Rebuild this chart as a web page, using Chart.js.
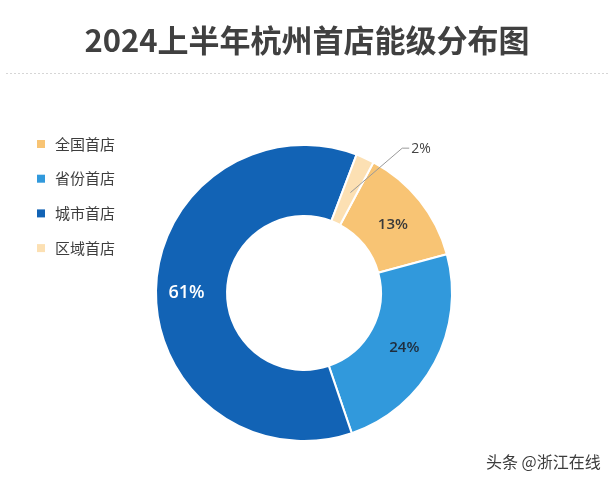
<!DOCTYPE html>
<html>
<head>
<meta charset="utf-8">
<script src="https://cdn.jsdelivr.net/npm/chart.js@4.4.1/dist/chart.umd.min.js"></script>
<style>
  html, body { margin: 0; padding: 0; background: #fff; }
  #wrap { width: 614px; height: 484px; position: relative; }
</style>
</head>
<body>
<div id="wrap"><canvas id="c" width="614" height="484"></canvas></div>
<script>
const titleText = '2024上半年杭州首店能级分布图';
const categories = ['全国首店', '省份首店', '城市首店', '区域首店'];
const shares = [13, 24, 61, 2];
const colors = ['#F8C474', '#3199DC', '#1263B5', '#FCE0B3'];
const labelColors = ['#3a3a3a', '#1f2d3d', '#ffffff', '#444444'];
const footer = '头条 @浙江在线';

const FONT = '"Noto Sans CJK SC", "Noto Sans", sans-serif';
const NUMFONT = '"Open Sans", "Noto Sans", sans-serif';

const decor = {
  id: 'decor',
  beforeDraw(chart) {
    const ctx = chart.ctx;
    ctx.save();
    ctx.fillStyle = '#fff';
    ctx.fillRect(0, 0, chart.width, chart.height);
    // title
    ctx.fillStyle = '#404040';
    ctx.font = 'bold 31px ' + FONT;
    ctx.textAlign = 'center';
    ctx.textBaseline = 'middle';
    ctx.fillText(titleText, 307, 40);
    // dotted rule
    ctx.fillStyle = '#d6d6d6';
    for (let x = 6; x < 610; x += 4) ctx.fillRect(x, 73, 2, 1);
    // legend
    ctx.textAlign = 'left';
    ctx.font = '15px ' + FONT;
    categories.forEach((name, i) => {
      const y = 144 + i * 34.7;
      ctx.fillStyle = colors[i];
      ctx.fillRect(37, y - 4, 8, 8);
      ctx.fillStyle = '#3d3d3d';
      ctx.fillText(name, 55, y);
    });
    // footer
    ctx.font = '16px ' + FONT;
    ctx.fillStyle = '#3c3c3c';
    ctx.fillText(footer, 486, 462);
    ctx.restore();
  },
  afterDatasetsDraw(chart) {
    const ctx = chart.ctx;
    const meta = chart.getDatasetMeta(0);
    ctx.save();
    ctx.textAlign = 'center';
    ctx.textBaseline = 'middle';
    meta.data.forEach((arc, i) => {
      const p = arc.getProps(['x', 'y', 'startAngle', 'endAngle', 'innerRadius', 'outerRadius']);
      const mid = (p.startAngle + p.endAngle) / 2;
      const r = (p.innerRadius + p.outerRadius) / 2;
      const cx = p.x + Math.cos(mid) * r;
      const cy = p.y + Math.sin(mid) * r;
      const txt = shares[i] + '%';
      if (shares[i] < 5) {
        const a2 = mid + 0.17;
        const ex = p.x + Math.cos(a2) * (p.outerRadius + 27);
        const ey = p.y + Math.sin(a2) * (p.outerRadius + 27);
        ctx.strokeStyle = '#9a9a9a';
        ctx.lineWidth = 1;
        ctx.beginPath();
        ctx.moveTo(cx, cy + 2);
        ctx.lineTo(ex, ey);
        ctx.lineTo(ex + 7, ey);
        ctx.stroke();
        ctx.fillStyle = labelColors[i];
        ctx.font = '14px ' + NUMFONT;
        ctx.textAlign = 'left';
        ctx.fillText(txt, ex + 9, ey + 1);
        ctx.textAlign = 'center';
      } else {
        ctx.fillStyle = labelColors[i];
        ctx.font = (shares[i] > 50 ? '600 18px ' : '600 15px ') + NUMFONT;
        ctx.fillText(txt, cx + (shares[i] > 50 ? -5 : 1), cy + 2);
      }
    });
    ctx.restore();
  }
};

new Chart(document.getElementById('c').getContext('2d'), {
  type: 'doughnut',
  data: {
    labels: categories,
    datasets: [{
      data: shares,
      backgroundColor: colors,
      borderColor: '#ffffff',
      borderWidth: 2,
      hoverOffset: 0
    }]
  },
  options: {
    responsive: false,
    animation: false,
    rotation: 28,
    cutout: '52%',
    layout: { padding: { left: 155, right: 161, top: 144, bottom: 42 } },
    plugins: {
      legend: { display: false },
      tooltip: { enabled: false }
    }
  },
  plugins: [decor]
});
</script>
</body>
</html>
